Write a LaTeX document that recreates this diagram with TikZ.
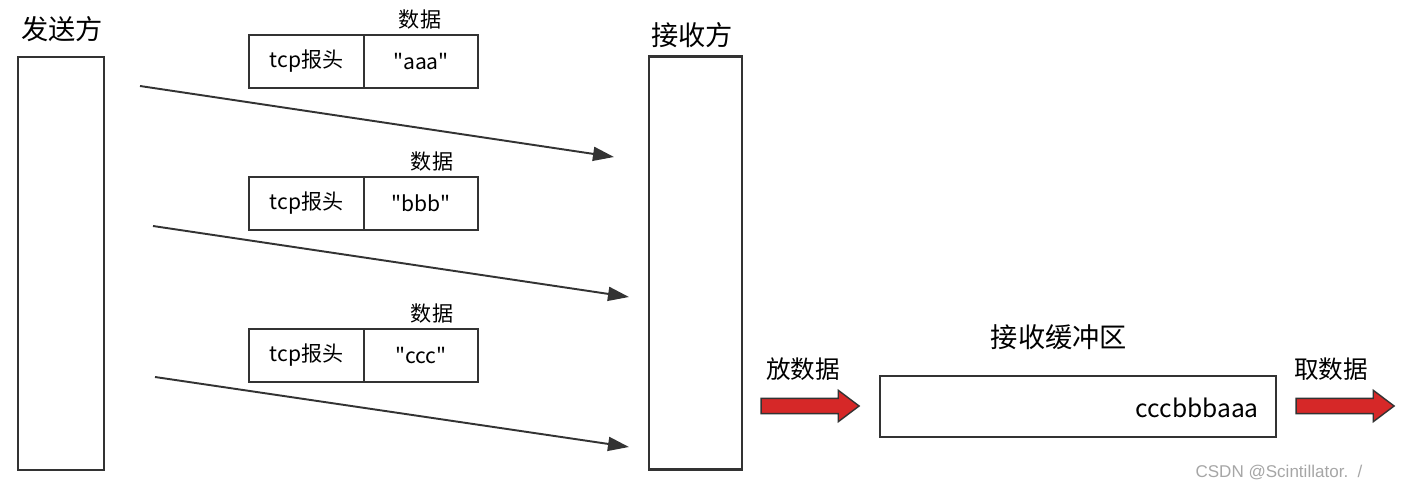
\documentclass[tikz,border=0pt]{standalone}
\usepackage{fontspec}
\newfontfamily\cjk{Noto Sans CJK SC}
\newfontfamily\wmfont{Liberation Sans}
\usetikzlibrary{positioning, arrows.meta, shapes.arrows}
\definecolor{edgegray}{RGB}{51, 51, 51}
\definecolor{putred}{RGB}{214, 40, 40}

\begin{document}
\begin{tikzpicture}[
    x=0.02cm, y=-0.02cm,
    >={Triangle[length=0.42cm, width=0.28cm]},
    tall/.style={
        draw=edgegray,
        line width=1.2pt,
        minimum width=#1,
        minimum height=8.26cm,
        inner sep=0pt,
    },
    cell/.style={
        draw=edgegray,
        line width=1.2pt,
        minimum width=2.3cm,
        minimum height=1.06cm,
        inner sep=0pt,
        font=\cjk\fontsize{12pt}{14pt}\selectfont,
    },
    biglabel/.style={font=\cjk\fontsize{15.5pt}{18pt}\selectfont},
    smalllabel/.style={font=\cjk\fontsize{12pt}{14pt}\selectfont},
    midlabel/.style={font=\cjk\fontsize{14pt}{16pt}\selectfont},
    send/.style={->, line width=1.1pt, draw=edgegray, fill=edgegray},
    fatarrow/.style={
        single arrow,
        draw=edgegray,
        fill=putred,
        line width=0.8pt,
        inner xsep=0pt,
        inner ysep=0.14cm,
        text height=0pt,
        text depth=0pt,
        minimum height=1.96cm,
        minimum width=0.6cm,
        single arrow head extend=0.16cm,
        single arrow tip angle=74,
    },
]

\useasboundingbox (0,0) rectangle (1404,493);

% -- Sender and receiver
\node[tall=1.72cm] (sender) at (61, 263.5) {};
\node[biglabel] (senderlbl) at (62, 29) {发送方};
\node[tall=1.86cm] (receiver) at (695.5, 263) {};
\node[biglabel] (receiverlbl) at (692, 35) {接收方};

% -- Packets
\foreach \i/\y/\dx/\txt in {1/61.5/420/aaa, 2/203.5/432/bbb, 3/355.5/432/ccc} {
    \node[cell] (hdr\i) at (306.5, \y) {tcp报头};
    \node[cell, minimum width=2.28cm] (data\i) at (421, \y) {"\txt"};
    \node[smalllabel, above=-1pt of data\i.north, xshift=(\dx-421)*0.02cm] (datalbl\i) {数据};
}

% -- Send arrows
\coordinate (s1) at (140, 86);
\coordinate (r1) at (614, 157);
\coordinate (s2) at (153, 226);
\coordinate (r2) at (629, 297);
\coordinate (s3) at (155, 377);
\coordinate (r3) at (629, 447);
\draw[send] (s1) -- (r1);
\draw[send] (s2) -- (r2);
\draw[send] (s3) -- (r3);

% -- Receive buffer
\node[draw=edgegray, line width=1.2pt, minimum width=7.92cm, minimum height=1.22cm, inner sep=0pt] (buffer) at (1078, 406.5) {};
\node[midlabel, font=\cjk\fontsize{15.5pt}{18pt}\selectfont] (bufferlbl) at (1059, 337) {接收缓冲区};
\node[midlabel, anchor=east] (buffertxt) at (1265, 408) {cccbbbaaa};

% -- Put / take arrows
\node[fatarrow] (put) at (805, 406) {};
\node[midlabel] (putlbl) at (803, 369) {放数据};
\node[fatarrow] (take) at (1340, 406) {};
\node[midlabel] (takelbl) at (1331, 369) {取数据};

% -- Watermark
\node[font=\wmfont\fontsize{9.7pt}{11pt}\selectfont, text=gray!70] (mark) at (1279, 473) {CSDN @Scintillator.\ \ /};

\end{tikzpicture}
\end{document}
